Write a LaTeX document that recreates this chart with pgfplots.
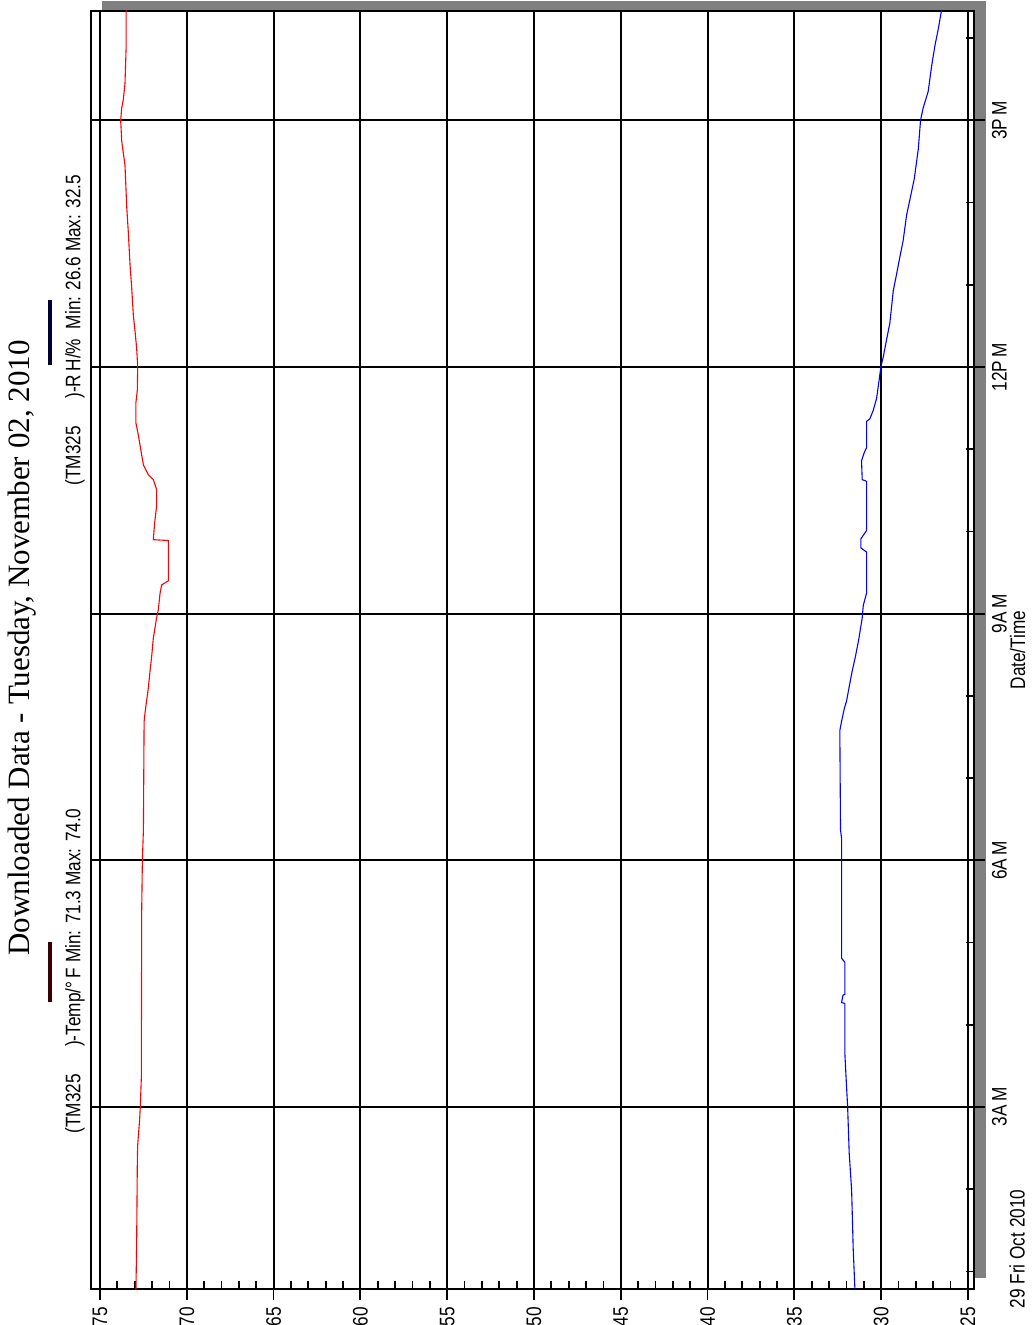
\documentclass[border=0pt]{standalone}
\usepackage{fontspec}
\setmainfont{Liberation Sans}[FakeStretch=0.82]
\newfontfamily\titlefont{Liberation Serif}
\usepackage{pgfplots}
\pgfplotsset{compat=1.18}
\definecolor{shadowgray}{HTML}{808080}
\definecolor{legred}{HTML}{3A0000}
\definecolor{legblue}{HTML}{000033}
\begin{document}
\begin{tikzpicture}
\fill[shadowgray] (5.5pt,5.5pt) rectangle (447.5pt,644pt);
\begin{axis}[
  scale only axis, width=441.5pt, height=639pt,
  at={(0,0)}, anchor=south west,
  axis background/.style={fill=white},
  xmin=24.65, xmax=75.52, x dir=reverse,
  ymin=0.787, ymax=16.33,
  xtick={25,30,...,75},
  minor x tick num=4,
  ytick={3,6,9,12,15},
  yticklabels={3A\,M,6A\,M,9A\,M,12P\,M,3P\,M},
  minor ytick={1,2,4,5,7,8,10,11,13,14,16},
  xtick pos=bottom, ytick pos=right, yticklabel pos=right,
  grid=major,
  major grid style={black, line width=1pt},
  tick align=outside,
  major tick length=5.5pt, minor tick length=-4pt,
  tick style={black, line width=0.9pt},
  axis line style={black, line width=1.1pt},
  /pgf/number format/assume math mode=true,
  xticklabel style={rotate=90, anchor=east, font=\fontsize{10.5}{12}\selectfont},
  yticklabel style={rotate=90, anchor=north, font=\fontsize{10.5}{12}\selectfont},
  clip=true,
]
\addplot[red, line width=0.55pt] coordinates {
(72.93,0.78) (72.89,1.33) (72.85,2.34) (72.83,2.54) (72.72,2.84) (72.68,3.00)
(72.62,3.35) (72.60,5.37) (72.56,6.00) (72.50,6.37) (72.46,7.69) (72.41,7.79)
(72.31,7.95) (72.22,8.09) (72.12,8.30) (72.02,8.49) (71.93,8.70) (71.74,8.95)
(71.64,9.05) (71.54,9.25) (71.45,9.35) (71.06,9.40) (71.06,9.89) (71.93,9.90)
(71.85,10.11) (71.74,10.31) (71.74,10.51) (71.93,10.63) (72.22,10.69) (72.50,10.81)
(72.60,10.93) (72.79,11.17) (72.93,11.32) (72.93,11.57) (72.85,11.72) (72.83,12.01)
(72.89,12.23) (72.98,12.43) (73.08,12.63) (73.18,12.98) (73.27,13.24) (73.37,13.64)
(73.46,13.94) (73.56,14.45) (73.75,14.75) (73.81,15.00) (73.75,15.15) (73.66,15.25)
(73.56,15.45) (73.50,15.86) (73.50,16.34)
};
\addplot[blue, line width=0.55pt] coordinates {
(31.51,0.78) (31.61,1.28) (31.70,1.99) (31.84,2.44) (31.93,3.00) (32.03,3.40)
(32.09,3.65) (32.09,4.26) (32.28,4.27) (32.20,4.36) (32.09,4.37) (32.09,4.76)
(32.28,4.81) (32.28,6.27) (32.34,6.37) (32.38,7.58) (32.28,7.69) (32.13,7.84)
(31.99,7.94) (31.86,8.09) (31.67,8.30) (31.47,8.49) (31.28,8.70) (31.09,8.95)
(31.03,9.10) (30.84,9.25) (30.84,9.75) (31.17,9.80) (31.17,9.91) (30.84,10.01)
(30.84,10.61) (31.09,10.63) (31.13,10.86) (30.97,10.96) (30.84,11.02) (30.84,11.34)
(30.65,11.37) (30.46,11.47) (30.26,11.62) (30.13,11.82) (30.01,12.01) (29.88,12.12)
(29.69,12.33) (29.50,12.53) (29.40,12.73) (29.30,12.93) (29.11,13.13) (28.92,13.34)
(28.73,13.54) (28.54,13.84) (28.34,14.04) (28.09,14.29) (27.86,14.65) (27.73,15.00)
(27.58,15.15) (27.29,15.35) (27.10,15.65) (26.90,15.91) (26.71,16.11) (26.52,16.34)
};
\end{axis}
% title, legend and labels (positions relative to the axis box corner at the origin)
\node[rotate=90, font=\titlefont\fontsize{15.5}{18}\selectfont] at (-34.5pt,320.5pt)
  {Downloaded Data - Tuesday, November 02, 2010};
\draw[legred, line width=2pt] (-20.5pt,143.5pt) -- (-20.5pt,173.5pt);
\node[rotate=90, font=\fontsize{10.5}{12}\selectfont] at (-8pt,159pt)
  {(TM325\hspace{1.3em})-Temp/°\,F Min: 71.3 Max: 74.0};
\draw[legblue, line width=2pt] (-20.5pt,462pt) -- (-20.5pt,494.5pt);
\node[rotate=90, font=\fontsize{10.5}{12}\selectfont] at (-8pt,479.5pt)
  {(TM325\hspace{1.3em})-R\,H/\%\ \ Min: 26.6 Max: 32.5};
\node[rotate=90, font=\fontsize{10.5}{12}\selectfont] at (463.25pt,319.5pt) {Date/Time};
\node[rotate=90, font=\fontsize{10.5}{12}\selectfont] at (463pt,20pt) {29 Fri Oct 2010};
\pgfresetboundingbox
\path[use as bounding box] (-45.5pt,-18pt) rectangle (472pt,644.5pt);
\end{tikzpicture}
\end{document}
